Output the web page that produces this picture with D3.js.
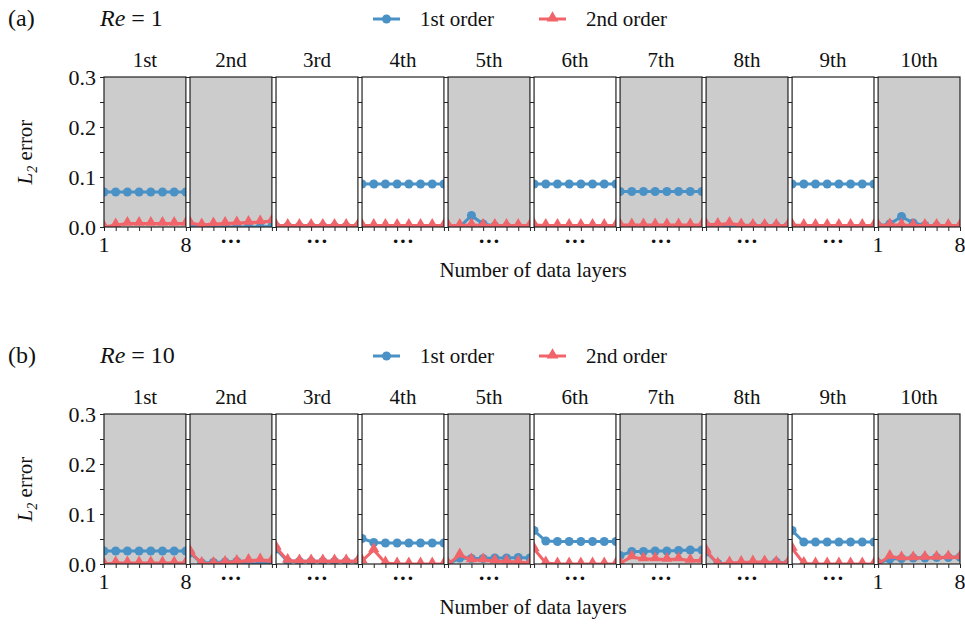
<!DOCTYPE html>
<html>
<head>
<meta charset="utf-8">
<script src="https://cdn.jsdelivr.net/npm/d3@7"></script>
<style>
  body { margin: 0; background: #fff; }
  #chart, #chart text, #chart tspan { font-family: "Liberation Serif", serif !important; }
</style>
</head>
<body>
<svg id="chart" width="965" height="632"></svg>
<script>
// chart data
var subplotTitles = ["1st", "2nd", "3rd", "4th", "5th", "6th", "7th", "8th", "9th", "10th"];
var grayPanels = [true, true, false, false, true, false, true, true, false, true];
var layers = [1, 2, 3, 4, 5, 6, 7, 8];
var yTicks = [0, 0.1, 0.2, 0.3];
var yMinorTicks = [0, 0.05, 0.1, 0.15, 0.2, 0.25, 0.3];
var seriesNames = ["1st order", "2nd order"];

// Re = 1
var re1First = [
    [0.070, 0.070, 0.070, 0.070, 0.070, 0.070, 0.070, 0.070],
    [0.004, 0.001, 0.000, 0.000, 0.000, 0.000, 0.000, 0.001],
    [0.001, 0.001, 0.001, 0.001, 0.001, 0.001, 0.001, 0.001],
    [0.086, 0.086, 0.086, 0.086, 0.086, 0.086, 0.086, 0.086],
    [0.000, 0.000, 0.023, 0.006, 0.002, 0.001, 0.000, 0.000],
    [0.086, 0.086, 0.086, 0.086, 0.086, 0.086, 0.086, 0.086],
    [0.071, 0.071, 0.071, 0.071, 0.071, 0.071, 0.071, 0.071],
    [0.003, 0.002, 0.002, 0.002, 0.002, 0.002, 0.002, 0.002],
    [0.086, 0.086, 0.086, 0.086, 0.086, 0.086, 0.086, 0.086],
    [0.002, 0.006, 0.021, 0.008, 0.003, 0.002, 0.000, 0.000]
];
var re1Second = [
    [0.000, 0.004, 0.007, 0.007, 0.007, 0.007, 0.007, 0.007],
    [0.008, 0.004, 0.006, 0.007, 0.008, 0.009, 0.010, 0.012],
    [0.003, 0.003, 0.003, 0.003, 0.003, 0.003, 0.003, 0.003],
    [0.003, 0.003, 0.003, 0.003, 0.003, 0.003, 0.003, 0.003],
    [0.003, 0.003, 0.004, 0.003, 0.003, 0.003, 0.003, 0.003],
    [0.004, 0.003, 0.003, 0.003, 0.003, 0.003, 0.003, 0.003],
    [0.004, 0.004, 0.004, 0.004, 0.004, 0.004, 0.004, 0.004],
    [0.005, 0.005, 0.007, 0.004, 0.003, 0.003, 0.003, 0.003],
    [0.004, 0.003, 0.003, 0.003, 0.003, 0.003, 0.003, 0.003],
    [0.003, 0.004, 0.004, 0.003, 0.003, 0.003, 0.003, 0.003]
];

// Re = 10
var re10First = [
    [0.026, 0.026, 0.026, 0.026, 0.026, 0.026, 0.026, 0.026],
    [0.022, 0.002, 0.003, 0.004, 0.005, 0.001, 0.000, 0.004],
    [0.030, 0.005, 0.005, 0.005, 0.005, 0.005, 0.005, 0.005],
    [0.051, 0.043, 0.042, 0.042, 0.042, 0.042, 0.042, 0.042],
    [0.000, 0.012, 0.011, 0.011, 0.012, 0.012, 0.013, 0.012],
    [0.067, 0.046, 0.045, 0.045, 0.045, 0.045, 0.045, 0.045],
    [0.017, 0.025, 0.025, 0.026, 0.026, 0.027, 0.028, 0.028],
    [0.024, 0.001, 0.000, 0.000, 0.000, 0.002, 0.004, 0.001],
    [0.067, 0.044, 0.044, 0.044, 0.044, 0.044, 0.044, 0.044],
    [0.002, 0.010, 0.011, 0.012, 0.012, 0.013, 0.013, 0.014]
];
var re10Second = [
    [0.000, 0.002, 0.002, 0.002, 0.002, 0.002, 0.002, 0.002],
    [0.025, 0.001, 0.001, 0.003, 0.005, 0.007, 0.008, 0.007],
    [0.033, 0.007, 0.006, 0.006, 0.006, 0.006, 0.006, 0.006],
    [0.006, 0.028, 0.002, 0.000, 0.000, 0.000, 0.000, 0.000],
    [0.000, 0.018, 0.008, 0.008, 0.006, 0.005, 0.004, 0.002],
    [0.030, 0.002, 0.000, 0.000, 0.000, 0.000, 0.000, 0.000],
    [0.002, 0.014, 0.010, 0.010, 0.009, 0.010, 0.007, 0.007],
    [0.027, 0.000, 0.002, 0.003, 0.004, 0.004, 0.003, 0.002],
    [0.031, 0.001, 0.000, 0.000, 0.000, 0.000, 0.000, 0.000],
    [0.001, 0.015, 0.012, 0.012, 0.013, 0.013, 0.014, 0.014]
];

var blue = "#4a92c6";
var red = "#f0646a";
var gray = "#cccccc";
var fontName = "Liberation Serif";

var svg = d3.select("#chart").style("font-family", fontName);

var xBand = d3.scaleBand().domain(d3.range(subplotTitles.length)).range([104, 960]).paddingInner(0.048).paddingOuter(0);

function addText(parent){
    return parent.append("text").style("font-family", fontName).attr("fill", "#111");
}

function drawPanel(panelIndex, top, label, reValue, firstData, secondData){
    var bottom = top + 150;
    var g = svg.append("g");
    var y = d3.scaleLinear().domain([0, 0.3]).range([bottom, top]);

    // panel label + Reynolds number
    addText(g).attr("x", 8).attr("y", top - 51).style("font-size", "24px").text(label);
    var reText = addText(g).attr("x", 100).attr("y", top - 51).style("font-size", "24px");
    reText.append("tspan").style("font-style", "italic").text("Re");
    reText.append("tspan").text(" = " + reValue);

    // legend
    var legend = g.append("g").attr("transform", "translate(0," + (top - 58) + ")");
    var legendX = [373, 539];
    seriesNames.forEach(function(name, i){
        var lg = legend.append("g").attr("transform", "translate(" + legendX[i] + ",0)");
        lg.append("line").attr("x1", 0).attr("x2", 27).attr("stroke", i == 0 ? blue : red).attr("stroke-width", 3);
        if(i == 0){
            lg.append("circle").attr("cx", 13.5).attr("r", 4.5).attr("fill", blue);
        } else {
            lg.append("path").attr("d", d3.symbol(d3.symbolTriangle, 60)()).attr("transform", "translate(13.5,-1)").attr("fill", red);
        }
        addText(lg).attr("x", 47).attr("y", 7).style("font-size", "21px").text(name);
    });

    subplotTitles.forEach(function(title, i){
        var left = xBand(i);
        var width = xBand.bandwidth();
        var x = d3.scaleLinear().domain([1, 8]).range([left, left + width]);
        var sg = g.append("g");
        var clipId = "clip-" + panelIndex + "-" + i;
        sg.append("clipPath").attr("id", clipId)
            .append("rect").attr("x", left).attr("y", top).attr("width", width).attr("height", bottom - top);

        sg.append("rect").attr("x", left).attr("y", top).attr("width", width).attr("height", bottom - top)
            .attr("fill", grayPanels[i] ? gray : "#fff");

        // y ticks (outward on every subplot, labels only on the first)
        var yAxis = d3.axisLeft(y).tickValues(yMinorTicks).tickSize(4).tickFormat("");
        sg.append("g").attr("transform", "translate(" + left + ",0)").call(yAxis)
            .call(function(a){ a.select(".domain").remove(); a.selectAll("line").attr("stroke", "#222"); });
        if(i == 0){
            yTicks.forEach(function(d){
                addText(sg).attr("x", left - 8).attr("y", y(d))
                    .attr("dy", "0.35em").attr("text-anchor", "end")
                    .style("font-size", "22px")
                    .text(d.toFixed(1));
            });
        }

        // x ticks
        var xAxis = d3.axisBottom(x).tickValues(layers).tickSize(4).tickFormat("");
        sg.append("g").attr("transform", "translate(0," + bottom + ")").call(xAxis)
            .call(function(a){ a.select(".domain").remove(); a.selectAll("line").attr("stroke", "#222"); });
        if(i == 0 || i == subplotTitles.length - 1){
            [1, 8].forEach(function(v){
                addText(sg).attr("x", x(v)).attr("y", bottom + 25).attr("text-anchor", "middle")
                    .style("font-size", "22px").text(v);
            });
        } else {
            addText(sg).attr("x", left + width / 2).attr("y", bottom + 21).attr("text-anchor", "middle")
                .style("font-size", "22px").style("font-weight", "bold").text("\u00b7\u00b7\u00b7");
        }

        // data
        var lineGen = d3.line().x(function(d, k){ return x(layers[k]); }).y(function(d){ return y(d); });
        var dg = sg.append("g").attr("clip-path", "url(#" + clipId + ")");
        dg.append("path").datum(firstData[i]).attr("d", lineGen).attr("fill", "none").attr("stroke", blue).attr("stroke-width", 3);
        dg.selectAll("circle").data(firstData[i]).enter().append("circle")
            .attr("cx", function(d, k){ return x(layers[k]); }).attr("cy", function(d){ return y(d); })
            .attr("r", 4.5).attr("fill", blue);
        dg.append("path").datum(secondData[i]).attr("d", lineGen).attr("fill", "none").attr("stroke", red).attr("stroke-width", 3);
        var tri = d3.symbol(d3.symbolTriangle, 55);
        dg.selectAll("path.tri").data(secondData[i]).enter().append("path").attr("class", "tri")
            .attr("d", tri())
            .attr("transform", function(d, k){ return "translate(" + x(layers[k]) + "," + (y(d) - 1) + ")"; })
            .attr("fill", red);

        // frame
        sg.append("rect").attr("x", left).attr("y", top).attr("width", width).attr("height", bottom - top)
            .attr("fill", "none").attr("stroke", "#222").attr("stroke-width", 1.2);

        addText(sg).attr("x", left + width / 2).attr("y", top - 10).attr("text-anchor", "middle")
            .style("font-size", "21px").text(title);
    });

    // axis titles
    var yl = addText(g).attr("transform", "translate(32," + ((top + bottom) / 2) + ") rotate(-90)")
        .attr("text-anchor", "middle").style("font-size", "21px");
    yl.append("tspan").style("font-style", "italic").text("L");
    yl.append("tspan").attr("dy", 5).style("font-size", "14px").style("font-style", "italic").text("2");
    yl.append("tspan").attr("dy", -5).text(" error");

    addText(g).attr("x", 533).attr("y", bottom + 50).attr("text-anchor", "middle")
        .style("font-size", "21px").text("Number of data layers");
}

drawPanel(0, 77, "(a)", 1, re1First, re1Second);
drawPanel(1, 414, "(b)", 10, re10First, re10Second);
</script>
</body>
</html>
